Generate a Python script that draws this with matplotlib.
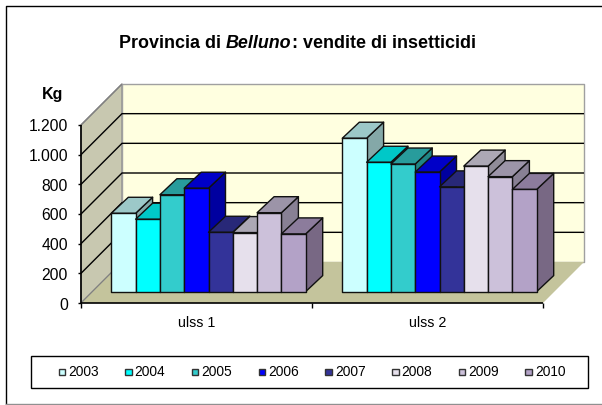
import matplotlib
matplotlib.use('Agg')
import matplotlib.pyplot as plt
from matplotlib.lines import Line2D
from matplotlib.patches import Polygon, Rectangle

W, H = 602, 405
anni = ['2003', '2004', '2005', '2006', '2007', '2008', '2009', '2010']
gruppi = ['ulss 1', 'ulss 2']
ulss1 = [528, 488, 653, 697, 400, 398, 532, 389]
ulss2 = [1034, 872, 860, 806, 706, 846, 775, 689]
tick_val = [0, 200, 400, 600, 800, 1000, 1200]
tick_lab = ['0', '200', '400', '600', '800', '1.000', '1.200']
# faccia frontale, alto, lato
colori = [('#CCFFFF', '#9CC8C8', '#84A8A8'), ('#00FFFF', '#00C8C8', '#00A0A0'),
          ('#33CCCC', '#289C9C', '#208484'), ('#0000FF', '#0000C8', '#0000A0'),
          ('#333399', '#282878', '#202060'), ('#E6E0EC', '#ACA8B4', '#908C98'),
          ('#CCC1DA', '#9C94A8', '#888094'), ('#B3A2C7', '#8C7C9C', '#786884')]

plt.rcParams['font.family'] = ['Liberation Sans', 'DejaVu Sans']
fig = plt.figure(figsize=(W / 100, H / 100), dpi=100)
fig.patch.set_facecolor('white')

# l'asse coincide col piano frontale: x 81-543, y 303-125 in pixel
ax = fig.add_axes([81 / W, 1 - 303 / H, 462 / W, 178 / H])
ax.set_xlim(0, 2)
ax.set_ylim(0, 1200)
ax.patch.set_visible(False)
for s in ax.spines.values():
    s.set_visible(False)
ax.set_xticks([])
ax.set_yticks([])

px = 2 / 462
py = 1200 / 178


def off(x, y, dx, dy):
    return (x + dx * px, y + dy * py)


def poly(pts, fc, ec='none', lw=0, z=1):
    ax.add_patch(Polygon(pts, closed=True, facecolor=fc, edgecolor=ec, linewidth=lw,
                         zorder=z, clip_on=False, joinstyle='round'))


def linea(xs, ys, c='black', lw=1.1, z=2):
    ax.plot(xs, ys, color=c, lw=lw, zorder=z, clip_on=False, solid_capstyle='butt')


D = 41
# pareti
poly([(0, 0), off(0, 0, D, D), off(0, 1200, D, D), (0, 1200)], '#C8C8B0', '#909090', 1.0)
poly([off(0, 0, D, D), off(2, 0, D, D), off(2, 1200, D, D), off(0, 1200, D, D)], '#FFFFE0', '#A0A0A0', 1.0)
poly([(0, 0), (2, 0), off(2, 0, D, D), off(0, 0, D, D)], '#C4C49C', 'none', 0)
for v in tick_val[1:-1]:
    linea([0, off(0, 0, D, D)[0], off(2, 0, D, D)[0]], [v, off(0, v, D, D)[1], off(0, v, D, D)[1]], lw=1.0)
linea([0, off(0, 0, D, D)[0]], [1200, off(0, 1200, D, D)[1]], c='#808080', lw=1.0)
linea([0, off(0, 0, D, D)[0]], [0, off(0, 0, D, D)[1]], c='#808080', lw=0.8)

# assi
linea([0, 0], [0, 1200], lw=1.2, z=8)
linea([0, 2], [0, 0], lw=1.2, z=8)
for v, t in zip(tick_val, tick_lab):
    linea([-3 * px, 0], [v, v], lw=1.0, z=8)
    ax.text(-13 * px, v - 2 * py, t, ha='right', va='center', fontsize=11.3, color='black')
for x in [0, 1, 2]:
    linea([x, x], [0, -5 * py], lw=1.0, z=8)
for i, g in enumerate(gruppi):
    ax.text(i + 0.5, -20 * py, g, ha='center', va='center', fontsize=10.3, color='black')

# barre
larg = 24.3 * px
F, FY, PX, PY = 12, 11.4, 17, 16
for g, valori in enumerate([ulss1, ulss2]):
    x0 = g + 0.5 - 4 * larg
    for i, v in enumerate(valori):
        a = off(x0 + i * larg, 0, F, FY)[0]
        b = a + larg
        base = off(0, 0, F, FY)[1]
        top = base + v
        z = 3 + g + i * 0.01
        poly([(b, base), off(b, base, PX, PY), off(b, top, PX, PY), (b, top)], colori[i][2], '#111111', 1.0, z)
        poly([(a, top), (b, top), off(b, top, PX, PY), off(a, top, PX, PY)], colori[i][1], '#111111', 1.0, z)
        poly([(a, base), (b, base), (b, top), (a, top)], colori[i][0], '#111111', 1.0, z)

# testi e cornici in coordinate figura
t = fig.text(119 / W, 1 - 43 / H, 'Provincia di', fontsize=12.9, fontweight='bold', va='center')
fig.canvas.draw()
r = fig.canvas.get_renderer()
x = t.get_window_extent(r).x1 + 5
t = fig.text(x / W, 1 - 43 / H, 'Belluno', fontsize=12.9, fontweight='bold', style='italic', va='center')
x = t.get_window_extent(r).x1
fig.text(x / W, 1 - 43 / H, ': vendite di insetticidi', fontsize=12.9, fontweight='bold', va='center')
fig.text(42 / W, 1 - 95 / H, 'Kg', fontsize=11.5, fontweight='bold', va='center')

# cornice: sopra e a sinistra nera, sotto grigia, a destra esce dall'immagine
fig.add_artist(Line2D([6 / W, 6 / W, 1], [1 - 404 / H, 1 - 6 / H, 1 - 6 / H], color='black', lw=1.0))
fig.add_artist(Line2D([6 / W, 1], [1 - 404 / H, 1 - 404 / H], color='#909090', lw=1.0))
fig.add_artist(Rectangle((31 / W, 1 - 388 / H), 557 / W, 32 / H, transform=fig.transFigure,
                         facecolor='white', edgecolor='black', linewidth=1.0))
for i, a in enumerate(anni):
    xq = 58.5 + i * 66.7
    fig.add_artist(Rectangle((xq / W, 1 - 375 / H), 6.5 / W, 6 / H, transform=fig.transFigure,
                             facecolor=colori[i][0], edgecolor='#333333', linewidth=1.0))
    fig.text((xq + 9.5) / W, 1 - 372.5 / H, a, fontsize=9.9, va='center')

fig.savefig('out.png', dpi=100)
